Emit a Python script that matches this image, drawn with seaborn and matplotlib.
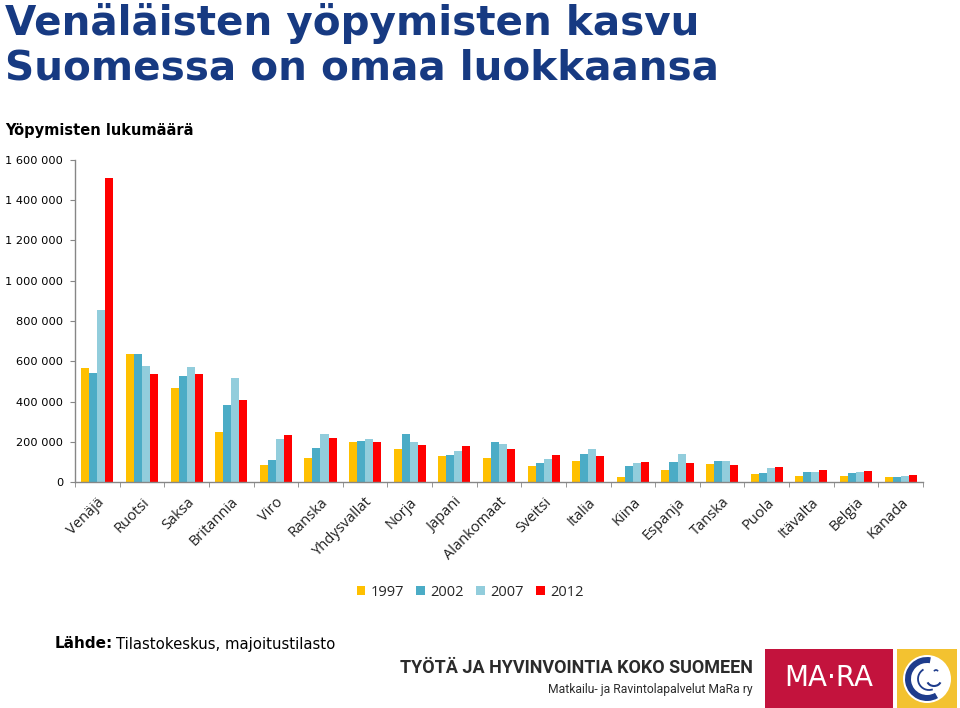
import numpy as np
import pandas as pd
import matplotlib
matplotlib.use('Agg')
import matplotlib.pyplot as plt
import seaborn as sns
from matplotlib.patches import Rectangle, Circle, Wedge, Arc
from matplotlib.ticker import FuncFormatter, FixedLocator

# ==========================================
# DATA
# ==========================================
countries = ['Venäjä', 'Ruotsi', 'Saksa', 'Britannia', 'Viro', 'Ranska', 'Yhdysvallat',
             'Norja', 'Japani', 'Alankomaat', 'Sveitsi', 'Italia', 'Kiina', 'Espanja',
             'Tanska', 'Puola', 'Itävalta', 'Belgia', 'Kanada']
years = ['1997', '2002', '2007', '2012']
y1997 = [567000, 637000, 465000, 248000, 86000, 119000, 197000, 164000, 130000, 120000,
         79000, 102000, 23000, 60000, 87000, 38000, 31000, 28000, 25000]
y2002 = [544000, 637000, 527000, 382000, 107000, 170000, 205000, 238000, 135000, 201000,
         96000, 140000, 81000, 97000, 102000, 46000, 51000, 43000, 26000]
y2007 = [855000, 577000, 572000, 518000, 213000, 238000, 215000, 201000, 155000, 190000,
         115000, 164000, 92000, 137000, 102000, 68000, 48000, 51000, 31000]
y2012 = [1509000, 539000, 536000, 408000, 236000, 218000, 198000, 182000, 177000, 165000,
         132000, 130000, 99000, 96000, 86000, 76000, 58000, 55000, 36000]
y_ticks = [0, 200000, 400000, 600000, 800000, 1000000, 1200000, 1400000, 1600000]

PALETTE = ['#FFC000', '#4BACC6', '#92CDDC', '#FF0000']
NAVY = '#173A82'
GRAY = '#868686'

df = pd.DataFrame({'maa': countries * 4,
                   'vuosi': np.repeat(years, len(countries)),
                   'yopymiset': y1997 + y2002 + y2007 + y2012})

# ==========================================
# FIGURE
# ==========================================
sns.set_style('white')
plt.rcParams['font.family'] = ['DejaVu Sans']

fig = plt.figure(figsize=(9.6, 7.08), dpi=100)
ax = fig.add_axes([75 / 960, 1 - 482 / 708, 848 / 960, 322 / 708])

sns.barplot(data=df, x='maa', y='yopymiset', hue='vuosi', palette=PALETTE,
            width=0.72, saturation=1, linewidth=0, ax=ax, legend=True)

ax.set_ylim(0, 1600000)
ax.set_xlim(-0.5, len(countries) - 0.5)
ax.yaxis.set_major_locator(FixedLocator(y_ticks))
ax.yaxis.set_major_formatter(FuncFormatter(lambda v, p: f'{int(v):,}'.replace(',', ' ')))
ax.set_xlabel('')
ax.set_ylabel('')

for s in ['top', 'right']:
    ax.spines[s].set_visible(False)
for s in ['left', 'bottom']:
    ax.spines[s].set_color(GRAY)
    ax.spines[s].set_linewidth(1.0)

# tick lengths/pads are in points (1 pt = 1.39 px here)
ax.tick_params(axis='y', which='major', left=True, length=3.6, color=GRAY, pad=5,
               labelsize=8.2, labelcolor='black')
ax.tick_params(axis='x', which='major', bottom=False, length=0, pad=9)
ax.set_xticks(np.arange(-0.5, len(countries)), minor=True)
ax.tick_params(axis='x', which='minor', bottom=True, length=3.6, color=GRAY)
ax.set_xticks(range(len(countries)))
ax.set_xticklabels(countries, rotation=45, ha='right', rotation_mode='anchor',
                   fontsize=10.5, family=['Open Sans', 'DejaVu Sans'], color='#202020')

# legend below the axes
handles, labels = ax.get_legend_handles_labels()
ax.legend(handles, labels, loc='center', bbox_to_anchor=(470 / 960, 1 - 592 / 708),
          bbox_transform=fig.transFigure, ncol=4, frameon=False, handlelength=0.6,
          handleheight=0.6, handletextpad=0.35, columnspacing=0.85,
          prop={'family': ['Open Sans', 'DejaVu Sans'], 'size': 10.5})

# ==========================================
# TEXTS
# ==========================================
fig.text(5 / 960, 1 - 3 / 708, 'Venäläisten yöpymisten kasvu\nSuomessa on omaa luokkaansa',
         ha='left', va='top', fontsize=29.2, fontweight='bold', color=NAVY, linespacing=1.13)
fig.text(5 / 960, 1 - 131 / 708, 'Yöpymisten lukumäärä', ha='left', va='center',
         fontsize=10.5, fontweight='bold', color='black')

fig.text(55 / 960, 1 - 644 / 708, 'Lähde:', ha='left', va='center', fontsize=11,
         fontweight='bold', color='black')
fig.text(116 / 960, 1 - 644 / 708, 'Tilastokeskus, majoitustilasto', ha='left', va='center',
         fontsize=10.7, color='black')

fig.text(753 / 960, 1 - 668 / 708, 'TYÖTÄ JA HYVINVOINTIA KOKO SUOMEEN', ha='right',
         va='center', fontsize=13, fontweight='bold', color='#2b2b2b',
         family=['Roboto', 'DejaVu Sans'])
fig.text(753 / 960, 1 - 689 / 708, 'Matkailu- ja Ravintolapalvelut MaRa ry', ha='right',
         va='center', fontsize=8.7, color='#2b2b2b', family=['Roboto', 'DejaVu Sans'])

# ==========================================
# LOGO
# ==========================================
fig.patches.append(Rectangle((765 / 960, 0), 128 / 960, 59 / 708, transform=fig.transFigure,
                             facecolor='#C3133D', edgecolor='none', figure=fig))
fig.text(829 / 960, 1 - 678 / 708, 'MA·RA', ha='center', va='center', fontsize=20,
         color='white', family=['DejaVu Sans'])

lax = fig.add_axes([897 / 960, 0, 60 / 960, 59 / 708])
lax.set_xlim(0, 60)
lax.set_ylim(0, 59)
lax.set_axis_off()
lax.add_patch(Rectangle((0, 0), 60, 59, facecolor='#F3C230', edgecolor='none'))
lax.add_patch(Circle((30, 29), 24, facecolor='white', edgecolor='none'))
lax.add_patch(Wedge((30, 29), 22, 80, 300, width=6, facecolor='#1E3C8C', edgecolor='none'))
lax.add_patch(Arc((32, 29), 22, 22, theta1=120, theta2=290, color='#1E3C8C', lw=1.3))
lax.add_patch(Arc((37, 28), 14, 12, theta1=200, theta2=340, color='#1E3C8C', lw=1.5))
lax.add_patch(Arc((39, 36), 4, 4, theta1=20, theta2=160, color='#1E3C8C', lw=1.2))

plt.savefig('out.png', dpi=100)
plt.close()
